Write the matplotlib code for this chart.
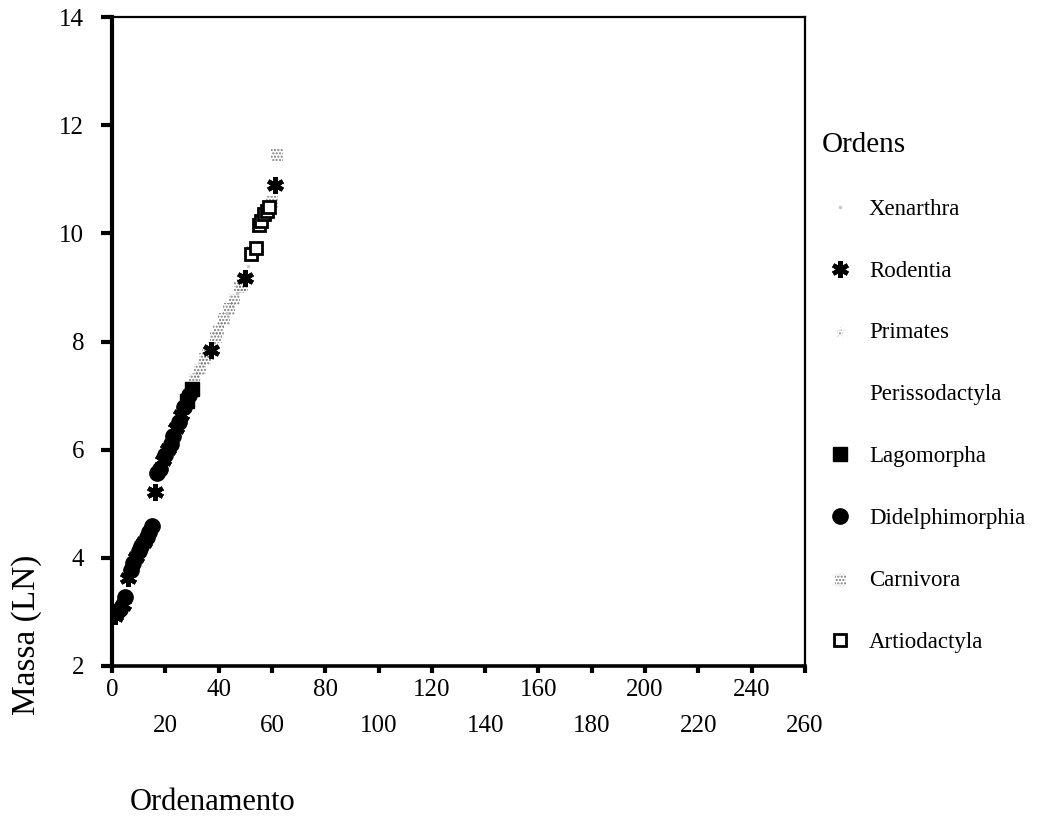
import numpy as np
import matplotlib
matplotlib.use("Agg")
import matplotlib.pyplot as plt

plt.rcParams['font.family'] = ['Liberation Serif', 'DejaVu Serif']

# rank (ordenamento) and ln(body mass) for each order
xen_rank = [43, 47, 51]
xen_mass = [8.52, 8.90, 9.40]

rod_rank = [1, 4, 6, 9, 12, 16, 19, 21, 24, 26, 37, 50, 61]
rod_mass = [2.92, 3.12, 3.63, 4.02, 4.30, 5.22, 5.80, 6.02, 6.40, 6.65, 7.85, 9.18, 10.90]

pri_rank = [32, 34, 38, 41, 45]
pri_mass = [7.38, 7.58, 7.95, 8.32, 8.68]

per_rank = []
per_mass = []

lag_rank = [28, 30]
lag_mass = [6.90, 7.12]

did_rank = [2, 3, 5, 7, 8, 10, 11, 13, 14, 15, 17, 18, 20, 22, 23, 25, 27, 29]
did_mass = [3.00, 3.05, 3.28, 3.78, 3.90, 4.12, 4.22, 4.38, 4.48, 4.58,
            5.57, 5.65, 5.90, 6.10, 6.25, 6.52, 6.78, 7.02]

car_rank = [31, 33, 35, 36, 39, 40, 42, 44, 46, 48, 49, 53, 60, 62]
car_mass = [7.30, 7.48, 7.68, 7.76, 8.08, 8.20, 8.42, 8.60, 8.78, 9.00, 9.05,
            9.66, 10.58, 11.45]

art_rank = [52, 54, 55, 56, 57, 58, 59]
art_mass = [9.62, 9.72, 10.15, 10.22, 10.35, 10.42, 10.48]

fig = plt.figure(figsize=(10.45, 8.23), dpi=100)
ax = fig.add_axes([112 / 1045, 157 / 823, 693 / 1045, 649 / 823])

h_xen, = ax.plot(xen_rank, xen_mass, linestyle='none', marker='.', markersize=3,
                 color='#c8c8c8', label='Xenarthra')
h_rod, = ax.plot(rod_rank, rod_mass, linestyle='none', marker=(6, 2, 0), markersize=12,
                 markeredgewidth=3.2, color='black', label='Rodentia', zorder=4)
h_pri = ax.scatter(pri_rank, pri_mass, marker='*', s=70, facecolors='none',
                   edgecolors='#8a8a8a', hatch='.....', linewidths=0, label='Primates')
h_per, = ax.plot(per_rank, per_mass, linestyle='none', marker='o', markersize=6,
                 color='white', label='Perissodactyla')
h_lag, = ax.plot(lag_rank, lag_mass, linestyle='none', marker='s', markersize=10,
                 color='black', label='Lagomorpha')
h_did, = ax.plot(did_rank, did_mass, linestyle='none', marker='o', markersize=11,
                 color='black', label='Didelphimorphia')
h_car = ax.scatter(car_rank, car_mass, marker='s', s=70, facecolors='none',
                   edgecolors='#7a7a7a', hatch='.....', linewidths=0, label='Carnivora')
h_art, = ax.plot(art_rank, art_mass, linestyle='none', marker='s', markersize=8,
                 markerfacecolor='white', markeredgecolor='black', markeredgewidth=2,
                 label='Artiodactyla', zorder=3)

ax.set_xlim(0, 260)
ax.set_ylim(2, 14)

# staggered x labels: 0, 40, ... on the upper row, 20, 60, ... below
ax.set_xticks(np.arange(0, 261, 40))
ax.set_xticks(np.arange(20, 261, 40), minor=True)
ax.set_xticklabels([str(v) for v in range(0, 261, 40)])
ax.set_xticklabels([str(v) for v in range(20, 261, 40)], minor=True)
ax.set_yticks(np.arange(2, 15, 2))

ax.tick_params(axis='x', which='both', direction='out', length=5, width=3,
               labelsize=18)
ax.tick_params(axis='x', which='major', pad=4)
ax.tick_params(axis='x', which='minor', pad=30)
ax.tick_params(axis='y', direction='out', length=8, width=3, labelsize=18, pad=12)

for side, lw in [('left', 3), ('bottom', 2.6), ('top', 1.6), ('right', 1.6)]:
    ax.spines[side].set_linewidth(lw)

fig.text(27 / 1045, 1 - 635 / 823, 'Massa (LN)', rotation=90, fontsize=24,
         ha='center', va='center')
fig.text(130 / 1045, 1 - 802 / 823, 'Ordenamento', fontsize=22,
         ha='left', va='center')

leg = ax.legend(handles=[h_xen, h_rod, h_pri, h_per, h_lag, h_did, h_car, h_art],
                title='Ordens', loc='upper left',
                bbox_to_anchor=(822 / 1045, 1 - 132 / 823),
                bbox_transform=fig.transFigure, frameon=False, fontsize=16.5,
                title_fontsize=21, alignment='left', borderpad=0,
                borderaxespad=0, handlelength=1.6, handletextpad=0.45,
                labelspacing=1.78, scatterpoints=1)

fig.savefig('out.png', dpi=100)
